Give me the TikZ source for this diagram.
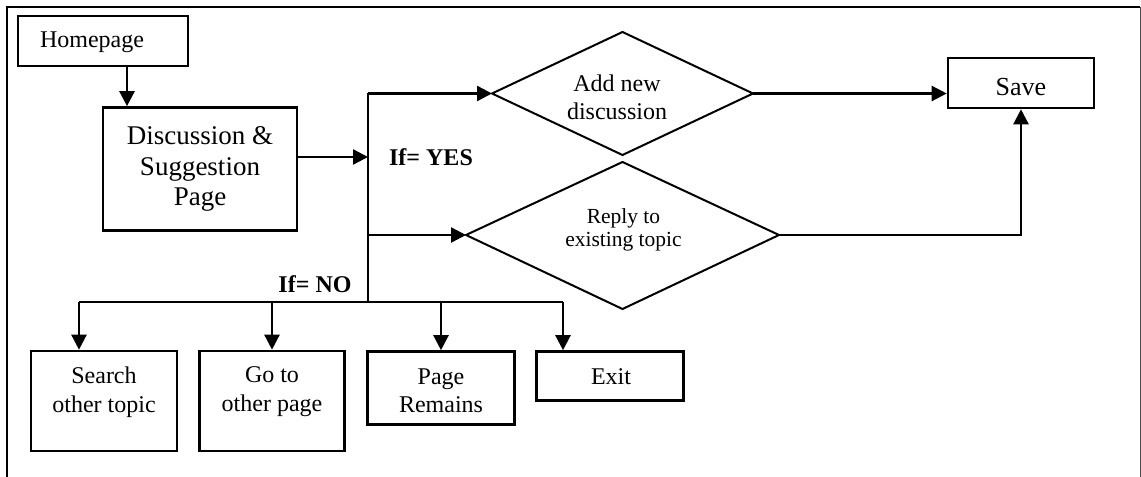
\documentclass[tikz,border=0pt]{standalone}
\usepackage{fontspec}
\setmainfont{Liberation Serif}
\usetikzlibrary{arrows.meta}
\begin{document}
\begin{tikzpicture}[x=1bp,y=-1bp,
  box/.style={draw,line width=2.6bp,rectangle,inner sep=0pt},
  dia/.style={draw,line width=2bp,line join=miter},
  txt/.style={inner sep=0pt,align=center},
  lbl/.style={inner sep=0pt,font=\fontsize{24bp}{29bp}\selectfont\bfseries},
  flow/.style={line width=2.4bp},
  arr/.style={flow,-{Triangle[length=15bp,width=15bp]}}]
\useasboundingbox (0,0) rectangle (1141,477);
% open frame round the chart
\draw[line width=2.4bp] (7,477) -- (7,7) -- (1140,7);
\draw[line width=1bp,black!70] (1140,7) -- (1140,477);

% boxes
\node[box,minimum width=170bp,minimum height=50bp] (home) at (103,41) {};
\node[txt,font=\fontsize{24bp}{29bp}\selectfont] at (92,42) {Homepage};

\node[box,minimum width=194bp,minimum height=123bp,align=center,
      font=\fontsize{27bp}{30.5bp}\selectfont] (disc) at (200,169)
      {Discussion \&\\Suggestion\\Page};

\node[box,minimum width=146bp,minimum height=50bp] (save) at (1021,83) {};
\node[txt,font=\fontsize{26bp}{30bp}\selectfont] at (1021,87) {Save};

\node[box,minimum width=146bp,minimum height=100bp] (search) at (104,401) {};
\node[txt,font=\fontsize{24bp}{29bp}\selectfont] at (104,392) {Search\\other topic};

\node[box,minimum width=145bp,minimum height=100bp] (goto) at (272,401) {};
\node[txt,font=\fontsize{24bp}{29bp}\selectfont] at (272,392) {Go to\\other page};

\node[box,minimum width=147bp,minimum height=73bp] (remain) at (441,388) {};
\node[txt,font=\fontsize{24bp}{28bp}\selectfont] at (441,391) {Page\\Remains};

\node[box,minimum width=147bp,minimum height=49bp] (exit) at (610,376) {};
\node[txt,font=\fontsize{24bp}{29bp}\selectfont] at (611,377) {Exit};

% decisions
\coordinate (addW) at (492,93.5);
\coordinate (addN) at (622.5,32);
\coordinate (addE) at (753,93.5);
\coordinate (addS) at (622.5,155);
\draw[dia] (addW) -- (addN) -- (addE) -- (addS) -- cycle;
\node[txt,font=\fontsize{24bp}{28bp}\selectfont] (add) at (617,97) {Add new\\discussion};

\coordinate (repW) at (466,235);
\coordinate (repN) at (622.5,162);
\coordinate (repE) at (779,235);
\coordinate (repS) at (622.5,309);
\draw[dia] (repW) -- (repN) -- (repE) -- (repS) -- cycle;
\node[txt,font=\fontsize{21.5bp}{23.5bp}\selectfont] (reply) at (623.5,230) {Reply to\\existing topic};

% branch points
\coordinate (hx) at (127,0);
\coordinate (junc) at (368,157);
\coordinate (bus) at (368,302);
\coordinate (sx) at (79,0);
\coordinate (ex) at (563,0);

% labels
\node[lbl] (yes) at (431,157) {If= YES};
\node[lbl] (no) at (315,284) {If= NO};

% connectors
\draw[arr] (home.south -| hx) -- (disc.north -| hx);
\draw[arr] (disc.east |- junc) -- (junc);
\draw[flow] (addW -| junc) -- (bus);
\draw[arr] (addW -| junc) -- (addW);
\draw[arr] (repW -| junc) -- (repW);
\draw[arr] (addE) -- (save.west |- addE);
\draw[arr] (repE) -| (save.south);
\draw[flow] (bus -| sx) -- (bus -| ex);
\draw[arr] (bus -| sx) -- (search.north -| sx);
\draw[arr] (bus -| goto.north) -- (goto.north);
\draw[arr] (bus -| remain.north) -- (remain.north);
\draw[arr] (bus -| ex) -- (exit.north -| ex);
\end{tikzpicture}
\end{document}
